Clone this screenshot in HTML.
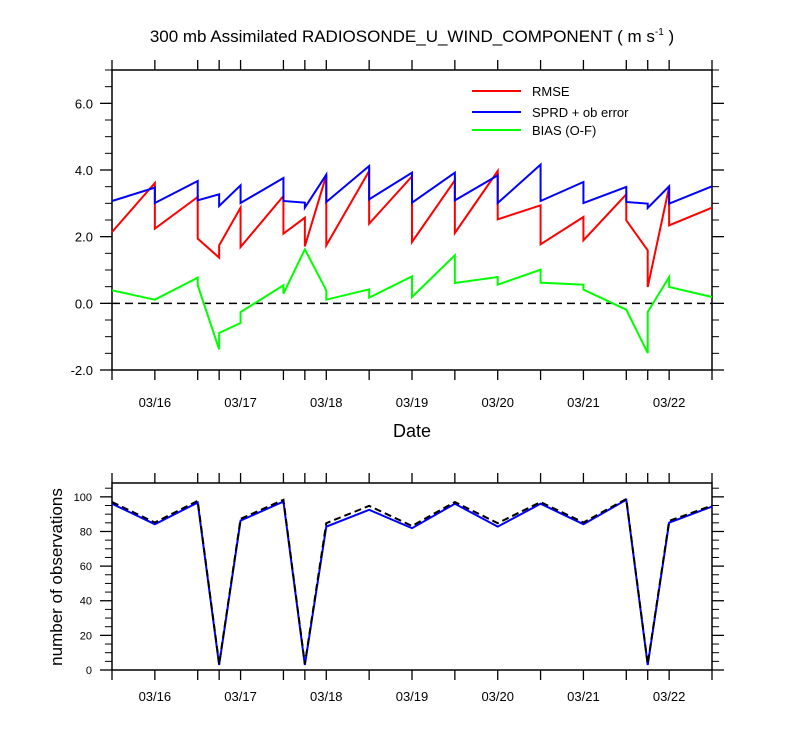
<!DOCTYPE html>
<html><head><meta charset="utf-8"><style>
html,body{margin:0;padding:0;background:#fff;}
svg{display:block;font-family:"Liberation Sans",sans-serif;}
</style></head><body>
<svg id="c" width="800" height="750"></svg>
<script>
// times in days since 03/15 12Z
const times = [0,0.5,1.0,1.25,1.5,2.0,2.25,2.5,3.0,3.5,4.0,4.5,5.0,5.5,6.0,6.25,6.5,7.0];
const dayLabels = ["03/16","03/17","03/18","03/19","03/20","03/21","03/22"];
const dayLabelTimes = [0.5,1.5,2.5,3.5,4.5,5.5,6.5];
// per-interval [start,end] values
const rmseStart = [2.14,2.24,1.94,1.74,1.69,2.09,1.71,1.74,2.39,1.84,2.11,2.52,1.77,1.89,2.49,0.49,2.34];
const rmseEnd   = [3.61,3.19,1.37,2.87,3.22,2.57,3.84,3.97,3.81,3.69,3.97,2.94,2.59,3.27,1.59,3.49,2.87];
const sprdStart = [3.07,3.01,3.09,2.92,3.01,3.07,2.87,3.04,3.12,3.02,3.09,3.01,3.07,3.01,3.04,2.86,2.99];
const sprdEnd   = [3.47,3.67,3.27,3.54,3.76,3.02,3.86,4.12,3.92,3.92,3.84,4.16,3.64,3.49,2.99,3.51,3.51];
const biasStart = [0.39,0.11,0.54,-0.89,-0.26,0.29,1.62,0.11,0.17,0.19,0.61,0.56,0.62,0.41,-0.19,-0.26,0.49];
const biasEnd   = [0.11,0.77,-1.38,-0.59,0.54,1.62,0.39,0.42,0.81,1.44,0.79,1.01,0.56,-0.19,-1.49,0.79,0.19];
const obsUsed = [96,84.2,96.7,2.9,86.3,97.3,2.9,82.8,92.5,81.9,96,82.8,96,84.2,98.3,2.9,85.1,94.4];
const obsPoss = [97,85.2,97.7,3.5,87.3,98.3,3.5,84.8,94.8,83.2,97,84.8,97,85.2,98.8,3.5,86.1,95];
const topTicks = [-2,0,2,4,6];
const topTickLabels = ["-2.0","0.0","2.0","4.0","6.0"];
const botTicks = [0,20,40,60,80,100];

const NS="http://www.w3.org/2000/svg";
const svg=document.getElementById('c');
function mk(tag,attrs,parent){const e=document.createElementNS(NS,tag);for(const k in attrs)e.setAttribute(k,attrs[k]);(parent||svg).appendChild(e);return e;}
const X0=112,X1=712;
const x=t=>X0+(t-0)/(7-0)*(X1-X0);
const yT=v=>370-(v+2)/9*300;
const yB=v=>670-v/108*187;

// titles
let t=mk('text',{x:412,y:42,'text-anchor':'middle','font-size':17});


t.innerHTML='300 mb Assimilated RADIOSONDE_U_WIND_COMPONENT ( m s<tspan dy="-7" font-size="10">-1</tspan><tspan dy="7"> )</tspan>';

function frame(top,bot,name){
  const r=mk('rect',{x:X0,y:top,width:X1-X0,height:bot-top,fill:'none',stroke:'#000','stroke-width':1.5});
  
  
}
// top plot
frame(70,370,'top-plot-frame');
times.forEach(tt=>{
  const l1=mk('line',{x1:x(tt),x2:x(tt),y1:70,y2:60,stroke:'#000','stroke-width':1.3});
  
  
  const l2=mk('line',{x1:x(tt),x2:x(tt),y1:370,y2:380,stroke:'#000','stroke-width':1.3});
  
  
});
for(let v=-2;v<=7.001;v+=0.5){
  const maj=Math.abs(v-Math.round(v/2)*2)<1e-6;
  const L=maj?12:7;
  [[X0,X0-L],[X1,X1+L]].forEach(p=>{
    const l=mk('line',{x1:p[0],x2:p[1],y1:yT(v),y2:yT(v),stroke:'#000','stroke-width':maj?1.3:1});
    
    
  });
}
topTicks.forEach((v,i)=>{
  const e=mk('text',{x:93,y:yT(v)+5,'text-anchor':'end','font-size':13});
  
  
  e.textContent=topTickLabels[i];
});
dayLabels.forEach((d,i)=>{
  const e=mk('text',{x:x(dayLabelTimes[i]),y:407,'text-anchor':'middle','font-size':13});
  
  
  e.textContent=d;
});
let dl=mk('text',{x:412,y:437,'text-anchor':'middle','font-size':18});


dl.textContent='Date';
let z=mk('line',{x1:X0,x2:X1,y1:yT(0),y2:yT(0),stroke:'#000','stroke-width':1.5,'stroke-dasharray':'8,5'});



function saw(st,en,color,name){
  let d='';
  for(let i=0;i<st.length;i++){
    d+=(i?'L':'M')+x(times[i])+','+yT(st[i])+'L'+x(times[i+1])+','+yT(en[i]);
  }
  const p=mk('path',{d:d,fill:'none',stroke:color,'stroke-width':2});
  
  
}
saw(rmseStart,rmseEnd,'#ff0000','rmse-line');
saw(sprdStart,sprdEnd,'#0000ff','sprd-line');
saw(biasStart,biasEnd,'#00ff00','bias-line');

[['RMSE','#ff0000',91],['SPRD + ob error','#0000ff',112],['BIAS (O-F)','#00ff00',130]].forEach(a=>{
  const g=mk('g',{});
  
  
  mk('line',{x1:472,x2:521,y1:a[2],y2:a[2],stroke:a[1],'stroke-width':2},g);
  const tx=mk('text',{x:532,y:a[2]+5,'font-size':13},g);
  tx.textContent=a[0];
});

// bottom plot
frame(483,670,'bottom-plot-frame');
times.forEach(tt=>{
  const l1=mk('line',{x1:x(tt),x2:x(tt),y1:483,y2:473,stroke:'#000','stroke-width':1.3});
  
  
  const l2=mk('line',{x1:x(tt),x2:x(tt),y1:670,y2:680,stroke:'#000','stroke-width':1.3});
  
  
});
for(let v=0;v<=105;v+=5){
  const maj=v%20===0;
  const L=maj?12:7;
  [[X0,X0-L],[X1,X1+L]].forEach(p=>{
    const l=mk('line',{x1:p[0],x2:p[1],y1:yB(v),y2:yB(v),stroke:'#000','stroke-width':maj?1.3:1});
    
    
  });
}
botTicks.forEach(v=>{
  const e=mk('text',{x:92,y:yB(v)+4,'text-anchor':'end','font-size':11});
  
  
  e.textContent=v;
});
dayLabels.forEach((d,i)=>{
  const e=mk('text',{x:x(dayLabelTimes[i]),y:701,'text-anchor':'middle','font-size':13});
  
  
  e.textContent=d;
});
let yt=mk('text',{x:0,y:0,'text-anchor':'middle','font-size':17,transform:'translate(62,577) rotate(-90)'});


yt.textContent='number of observations';

function line(vals,color,dash,name){
  const d=vals.map((v,i)=>(i?'L':'M')+x(times[i])+','+yB(v)).join('');
  const p=mk('path',{d:d,fill:'none',stroke:color,'stroke-width':2});
  if(dash)p.setAttribute('stroke-dasharray',dash);
  
  
}
line(obsUsed,'#0000ff',null,'obs-used-line');
line(obsPoss,'#000','7,4','obs-possible-line');
</script>
</body></html>
